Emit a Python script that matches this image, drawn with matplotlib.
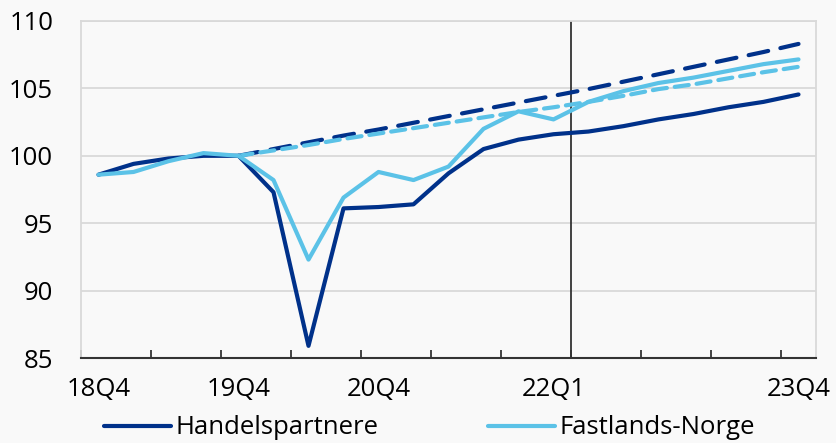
import numpy as np
import matplotlib
matplotlib.use("Agg")
import matplotlib.pyplot as plt

# quarters 18Q4 .. 23Q4
quarters = ["18Q4", "19Q1", "19Q2", "19Q3", "19Q4", "20Q1", "20Q2", "20Q3", "20Q4",
            "21Q1", "21Q2", "21Q3", "21Q4", "22Q1", "22Q2", "22Q3", "22Q4",
            "23Q1", "23Q2", "23Q3", "23Q4"]
shown_labels = ["18Q4", "19Q4", "20Q4", "22Q1", "23Q4"]

handel = [98.6, 99.4, 99.8, 100.0, 100.0, 97.3, 85.9, 96.1, 96.2, 96.4, 98.7,
          100.5, 101.2, 101.6, 101.8, 102.2, 102.7, 103.1, 103.6, 104.0, 104.55]
fastland = [98.6, 98.8, 99.6, 100.2, 100.0, 98.2, 92.3, 96.9, 98.8, 98.2, 99.2,
            102.0, 103.3, 102.7, 104.0, 104.8, 105.4, 105.8, 106.3, 106.8, 107.15]
# trend lines from 19Q4
handel_trend = [np.nan] * 4 + [100.0, 100.5, 101.0, 101.5, 101.95, 102.45, 102.95, 103.45,
                               103.95, 104.45, 104.95, 105.5, 106.05, 106.6, 107.15, 107.7, 108.3]
fastland_trend = [np.nan] * 4 + [100.0, 100.4, 100.8, 101.25, 101.65, 102.05, 102.45, 102.85,
                                 103.25, 103.6, 104.0, 104.45, 104.95, 105.3, 105.75, 106.2, 106.6]

navy = "#00318a"
light = "#5bc2e7"
bg = "#f9f9f9"
fs = 18.5

plt.rcParams["font.family"] = ["Open Sans", "DejaVu Sans"]

fig = plt.figure(figsize=(8.36, 4.43), dpi=100, facecolor=bg)
ax = fig.add_axes([81 / 836, 85 / 443, 735 / 836, 337 / 443], facecolor=bg)

x = np.arange(len(quarters))
ax.plot(x, handel_trend, color=navy, lw=3, ls=(0, (4.8, 3.0)), dash_capstyle="round")
ax.plot(x, fastland_trend, color=light, lw=3, ls=(0, (3.4, 1.9)), dash_capstyle="round")
ax.plot(x, handel, color=navy, lw=3, label="Handelspartnere", solid_capstyle="round")
ax.plot(x, fastland, color=light, lw=3, label="Fastlands-Norge", solid_capstyle="round")

ax.axvline(13.5, color="#333333", lw=1.3, zorder=1)

ax.set_xlim(-0.5, len(quarters) - 0.5)
ax.set_ylim(85, 110)
ax.set_yticks([85, 90, 95, 100, 105, 110])
ax.grid(axis="y", color="#d9d9d9", lw=1.3, zorder=0)
ax.set_axisbelow(True)

pos = [quarters.index(q) for q in shown_labels]
ax.set_xticks(pos)
ax.set_xticklabels(shown_labels)
ax.set_xticks(np.arange(-0.5, len(quarters) - 1, 2), minor=True)
ax.tick_params(axis="x", which="major", length=0, pad=14, labelsize=fs)
ax.tick_params(axis="x", which="minor", length=6, width=1.3, color="#333333", direction="in")
ax.tick_params(axis="y", length=0, pad=20, labelsize=fs)

for s in ["left", "right", "top"]:
    ax.spines[s].set_color("#d9d9d9")
    ax.spines[s].set_linewidth(1.3)
ax.spines["bottom"].set_color("#333333")
ax.spines["bottom"].set_linewidth(1.5)

fig.legend(loc="center", bbox_to_anchor=(429.5 / 836, 15 / 443), ncol=2, frameon=False,
           fontsize=fs, handlelength=2.6, handletextpad=0.2, columnspacing=4.25,
           borderpad=0.0)

fig.savefig("out.png", dpi=100, facecolor=bg)
